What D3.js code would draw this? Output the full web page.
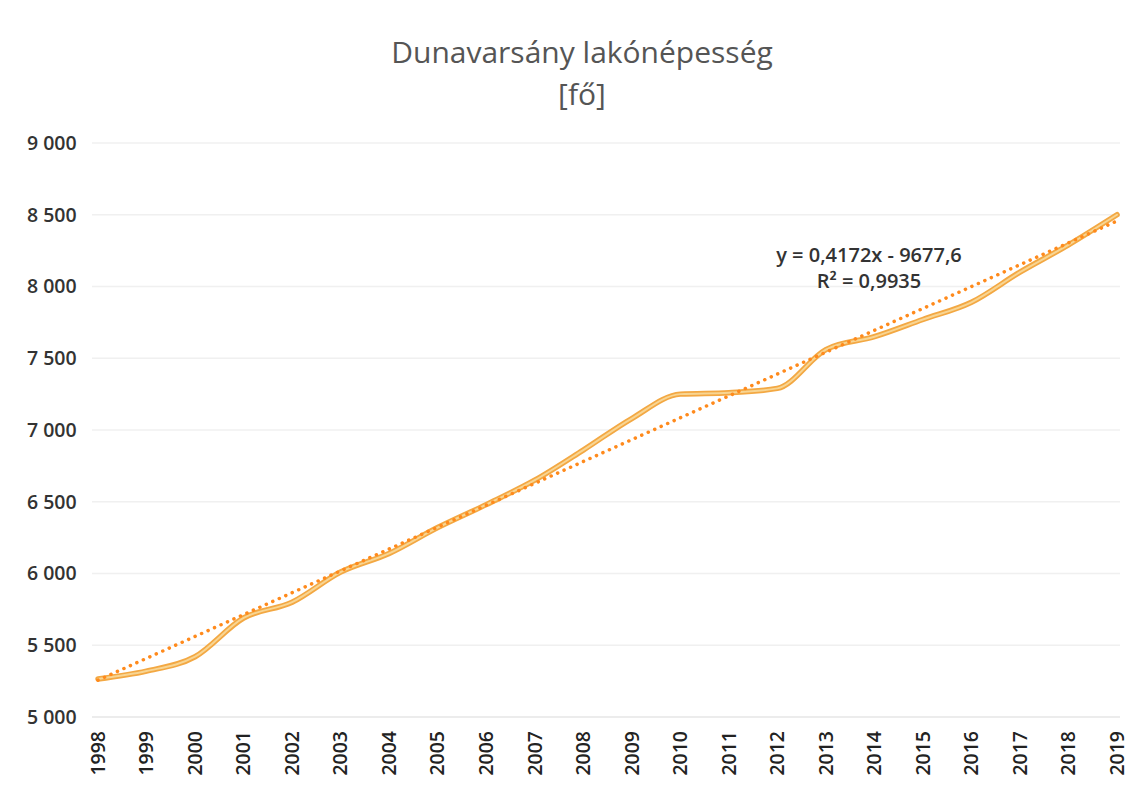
<!DOCTYPE html>
<html>
<head>
<meta charset="utf-8">
<script src="https://cdn.jsdelivr.net/npm/d3@7"></script>
<style>
  html, body { margin: 0; padding: 0; background: #ffffff; }
  svg { display: block; }
</style>
</head>
<body>
<svg id="chart" width="1133" height="791"></svg>
<script>
// ---- data ----
const years = [1998,1999,2000,2001,2002,2003,2004,2005,2006,2007,2008,2009,2010,2011,2012,2013,2014,2015,2016,2017,2018,2019];
const population = [5265,5320,5420,5690,5800,6010,6140,6320,6480,6650,6860,7080,7250,7260,7290,7560,7650,7770,7890,8100,8290,8500];
const yTicks = [5000,5500,6000,6500,7000,7500,8000,8500,9000];
const trendSlope = 0.4172;
const trendIntercept = -9677.6;
const titleLines = ["Dunavarsány lakónépesség", "[fő]"];
const equationLines = ["y = 0,4172x - 9677,6", "R² = 0,9935"];

// ---- layout ----
const svg = d3.select("#chart");
const x = d3.scalePoint().domain(years).range([98, 1117]);
const y = d3.scaleLinear().domain([5000, 9000]).range([717, 143]);

// gridlines
svg.append("g").selectAll("line").data(yTicks).join("line")
  .attr("x1", 92).attr("x2", 1120)
  .attr("y1", d => y(d)).attr("y2", d => y(d))
  .attr("stroke", d => d === 5000 ? "#e6e6e6" : "#f0f0f0")
  .attr("stroke-width", 1.3);

// y axis labels
const fmt = d => d3.format(",")(d).replace(/,/g, " ");
svg.append("g").selectAll("text").data(yTicks).join("text")
  .attr("x", 27).attr("y", d => y(d))
  .attr("dy", "0.35em")
  .attr("font-family", "'Open Sans', 'Noto Sans', sans-serif")
  .attr("font-size", 19.5).attr("font-weight", 600)
  .attr("fill", "#333")
  .text(fmt);

// x axis labels (rotated)
svg.append("g").selectAll("text").data(years).join("text")
  .attr("transform", d => `translate(${x(d)},731) rotate(-90)`)
  .attr("text-anchor", "end")
  .attr("dy", "0.35em")
  .attr("font-family", "'Open Sans', 'Noto Sans', sans-serif")
  .attr("font-size", 19.5).attr("font-weight", 600)
  .attr("fill", "#222")
  .text(d => d);

// data line
const pts = years.map((yr, i) => [yr, population[i]]);
const line = d3.line().x(d => x(d[0])).y(d => y(d[1])).curve(d3.curveMonotoneX);
svg.append("path").datum(pts).attr("d", line)
  .attr("fill", "none").attr("stroke", "#F3A843").attr("stroke-width", 5.5)
  .attr("stroke-linejoin", "round").attr("stroke-linecap", "round");
svg.append("path").datum(pts).attr("d", line)
  .attr("fill", "none").attr("stroke", "#F8D592").attr("stroke-width", 2)
  .attr("stroke-linejoin", "round").attr("stroke-linecap", "round");

// trendline (Excel date serial as x)
const serial = yr => (Date.UTC(yr, 0, 1) - Date.UTC(1899, 11, 30)) / 86400000;
const trendPts = [years[0], years[years.length - 1]].map(yr => [yr, trendSlope * serial(yr) + trendIntercept]);
svg.append("path").datum(trendPts)
  .attr("d", d3.line().x(d => x(d[0])).y(d => y(d[1])))
  .attr("fill", "none").attr("stroke", "#FF8A1C").attr("stroke-width", 3.5)
  .attr("stroke-dasharray", "0.1 7").attr("stroke-linecap", "round");

// title
svg.append("g").selectAll("text").data(titleLines).join("text")
  .attr("x", 582).attr("y", (d, i) => 63 + i * 42)
  .attr("text-anchor", "middle")
  .attr("font-family", "'Open Sans', 'Noto Sans', sans-serif")
  .attr("font-size", 30)
  .attr("fill", "#555")
  .text(d => d);

// equation
svg.append("g").selectAll("text").data(equationLines).join("text")
  .attr("x", 869).attr("y", (d, i) => 262 + i * 26)
  .attr("text-anchor", "middle")
  .attr("font-family", "'Open Sans', 'Noto Sans', sans-serif")
  .attr("font-size", 20).attr("font-weight", 600)
  .attr("fill", "#333")
  .text(d => d);
</script>
</body>
</html>
